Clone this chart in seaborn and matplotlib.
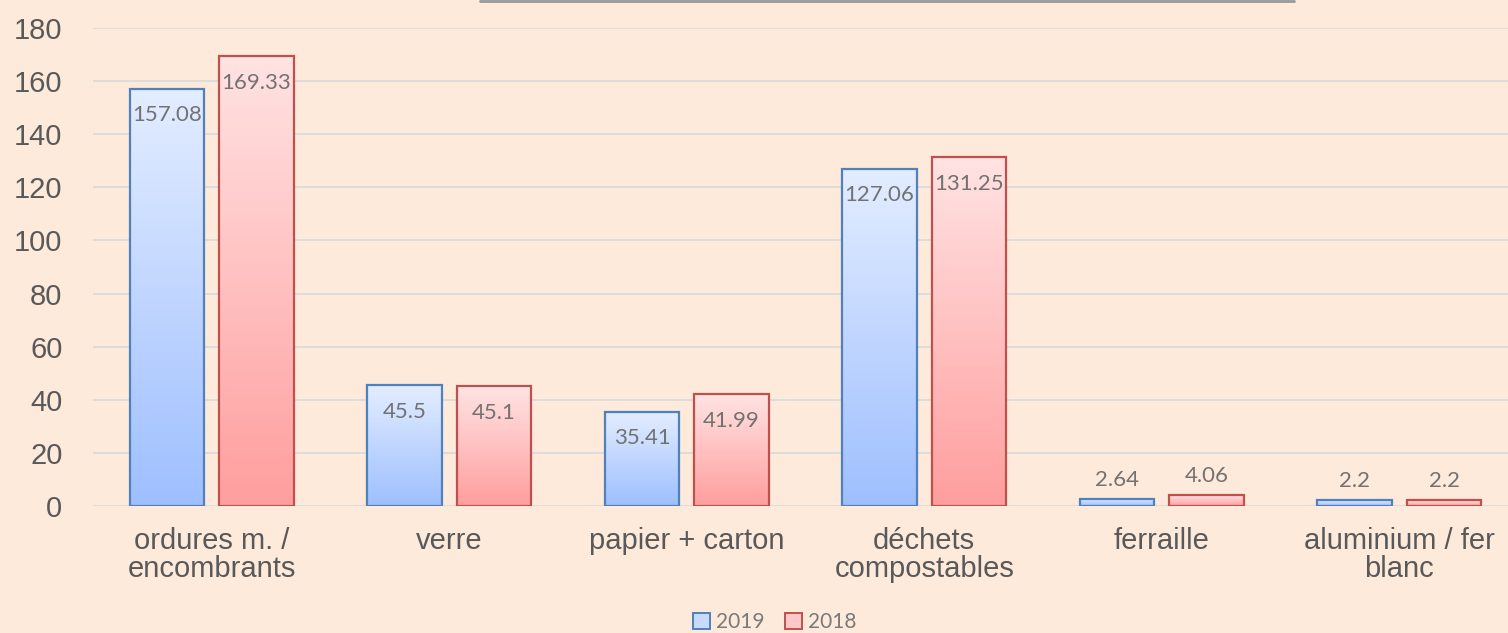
import numpy as np
import pandas as pd
import matplotlib
matplotlib.use("Agg")
import matplotlib.pyplot as plt
from matplotlib.colors import LinearSegmentedColormap
from matplotlib.patches import Patch
from matplotlib.lines import Line2D
import seaborn as sns

# données (tonnes)
categories = ["ordures m. /\nencombrants", "verre", "papier + carton",
              "déchets\ncompostables", "ferraille", "aluminium / fer\nblanc"]
annees = ["2019", "2018"]
valeurs_2019 = [157.08, 45.5, 35.41, 127.06, 2.64, 2.2]
valeurs_2018 = [169.33, 45.1, 41.99, 131.25, 4.06, 2.2]
etiquettes_2019 = ["157.08", "45.5", "35.41", "127.06", "2.64", "2.2"]
etiquettes_2018 = ["169.33", "45.1", "41.99", "131.25", "4.06", "2.2"]

fond = "#FDEADB"
bord = {"2019": "#4F81BD", "2018": "#C0504D"}
degrade = {"2019": ["#E3EDFF", "#9EBFFF"], "2018": ["#FFE3E3", "#FF9E9E"]}

df = pd.DataFrame({
    "categorie": categories * 2,
    "annee": ["2019"] * 6 + ["2018"] * 6,
    "valeur": valeurs_2019 + valeurs_2018,
})

sns.set_style("white")
plt.rcParams["font.family"] = ["Liberation Sans", "DejaVu Sans"]

fig = plt.figure(figsize=(15.08, 6.33), dpi=100, facecolor=fond)
ax = fig.add_axes([93 / 1508, 127 / 633, 1425 / 1508, 478 / 633])
ax.set_facecolor(fond)

sns.barplot(data=df, x="categorie", y="valeur", hue="annee", hue_order=annees,
            order=categories, width=0.754, gap=0.17, ax=ax, legend=False,
            palette={a: bord[a] for a in annees}, zorder=3)

# dégradé vertical dans chaque barre
barres = [p for p in ax.patches]
for i, p in enumerate(barres):
    annee = annees[i // len(categories)]
    cmap = LinearSegmentedColormap.from_list(annee, degrade[annee])
    x, w, h = p.get_x(), p.get_width(), p.get_height()
    grad = np.linspace(0, 1, 256).reshape(-1, 1)
    im = ax.imshow(grad, cmap=cmap, extent=[x, x + w, 0, h], origin="upper",
                   aspect="auto", zorder=2, interpolation="bicubic")
    im.set_clip_path(p)
    p.set_facecolor("none")
    p.set_edgecolor(bord[annee])
    p.set_linewidth(1.6)
    p.set_zorder(4)
ax.set_xlim(-0.5, 5.5)
ax.set_ylim(0, 180)
ax.set_aspect("auto")

# étiquettes de valeurs
etiquettes = etiquettes_2019 + etiquettes_2018
for p, txt in zip(barres, etiquettes):
    cx = p.get_x() + p.get_width() / 2
    h = p.get_height()
    dy = -19 if h > 10 else 14
    ax.annotate(txt, (cx, h), xytext=(0, dy), textcoords="offset points",
                ha="center", va="center", fontsize=16, color="#727272",
                family="Lato", zorder=5)

ax.set_yticks(range(0, 181, 20))
ax.yaxis.grid(True, color="#DCDCDC", linewidth=1.4, zorder=0)
ax.xaxis.grid(False)
for s in ax.spines.values():
    s.set_visible(False)
ax.tick_params(axis="y", length=0, pad=22, labelsize=21, labelcolor="#595959")
ax.tick_params(axis="x", length=0, pad=15, labelsize=21, labelcolor="#595959")
for t in ax.get_xticklabels():
    t.set_linespacing(1.0)
ax.set_xlabel("")
ax.set_ylabel("")

# légende
poignees = [Patch(facecolor="#C8DBFF", edgecolor=bord["2019"], linewidth=1.4, label="2019"),
            Patch(facecolor="#FFC8C8", edgecolor=bord["2018"], linewidth=1.4, label="2018")]
fig.legend(handles=poignees, loc="center", bbox_to_anchor=(775 / 1508, 11 / 633),
           ncol=2, frameon=False, prop={"family": "Lato", "size": 15},
           handlelength=0.8, handleheight=0.8, handletextpad=0.3, columnspacing=1.0,
           labelcolor="#7A7A7A")

# bord inférieur du cadre du titre
fig.add_artist(Line2D([480 / 1508, 1294 / 1508], [1 - 1 / 633, 1 - 1 / 633],
                      color="#999999", linewidth=2.0))

fig.savefig("out.png", dpi=100, facecolor=fond)
